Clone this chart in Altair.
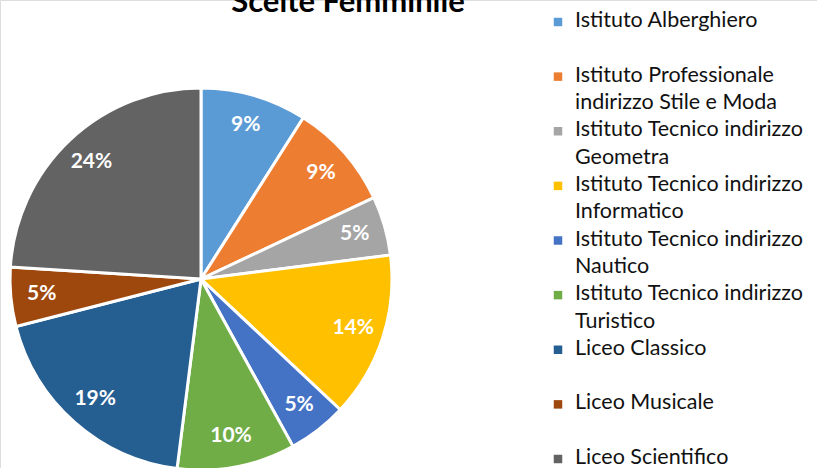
import altair as alt
import pandas as pd

categories = [
    "Istituto Alberghiero",
    "Istituto Professionale indirizzo Stile e Moda",
    "Istituto Tecnico indirizzo Geometra",
    "Istituto Tecnico indirizzo Informatico",
    "Istituto Tecnico indirizzo Nautico",
    "Istituto Tecnico indirizzo Turistico",
    "Liceo Classico",
    "Liceo Musicale",
    "Liceo Scientifico",
]
legend_labels = [
    "Istituto Alberghiero",
    "Istituto Professionale|indirizzo Stile e Moda",
    "Istituto Tecnico indirizzo|Geometra",
    "Istituto Tecnico indirizzo|Informatico",
    "Istituto Tecnico indirizzo|Nautico",
    "Istituto Tecnico indirizzo|Turistico",
    "Liceo Classico",
    "Liceo Musicale",
    "Liceo Scientifico",
]
values = [9, 9, 5, 14, 5, 10, 19, 5, 24]
colors = ["#5B9BD5", "#ED7D31", "#A5A5A5", "#FFC000", "#4472C4",
          "#70AD47", "#255E91", "#9E480E", "#636363"]
title_text = "Scelte Femminile"

df = pd.DataFrame({
    "cat": categories,
    "legend": legend_labels,
    "value": values,
    "idx": list(range(len(categories))),
})
df["label"] = df["value"].astype(str) + "%"

FONT = "Lato"
CX, CY, R = 201, 279, 191

color = alt.Color("cat:N", scale=alt.Scale(domain=categories, range=colors), legend=None)

base = alt.Chart(df)

pie = base.mark_arc(outerRadius=R, stroke="white", strokeWidth=3).encode(
    theta=alt.Theta("value:Q", stack=True),
    color=color,
    order=alt.Order("idx:Q"),
    x=alt.value(CX),
    y=alt.value(CY),
)

pie_labels = base.mark_text(radius=160, font=FONT, fontWeight="bold", fontSize=21,
                            color="white").encode(
    theta=alt.Theta("value:Q", stack=True),
    text="label:N",
    order=alt.Order("idx:Q"),
    x=alt.value(CX),
    y=alt.value(CY),
)

ly = alt.Y("idx:Q", scale=alt.Scale(domain=[0, 8], range=[22, 459]), axis=None)

leg_sq = base.mark_square(size=72, opacity=1).encode(
    x=alt.value(558),
    y=ly,
    color=color,
)

leg_txt = base.mark_text(align="left", baseline="top", lineBreak="|", lineHeight=27.5,
                         font=FONT, fontSize=21.5, color="#111111", dy=-12).encode(
    x=alt.value(575),
    y=ly,
    text="legend:N",
)

title = alt.Chart(pd.DataFrame({"t": [title_text]})).mark_text(
    font=FONT, fontWeight="bold", fontSize=31, baseline="alphabetic", align="center",
    color="#000000").encode(
    x=alt.value(348),
    y=alt.value(12),
    text="t:N",
)

chart = alt.layer(pie, pie_labels, leg_sq, leg_txt, title).properties(
    width=817, height=468, autosize="none", padding=0
).configure_view(stroke=None).configure(background="white")

chart.save("out.html", embed_options={"renderer": "svg", "actions": False})
